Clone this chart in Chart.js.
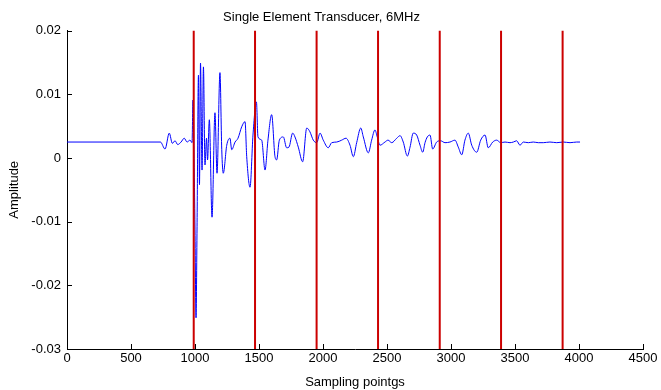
<!DOCTYPE html>
<html>
<head>
<meta charset="utf-8">
<script src="https://cdn.jsdelivr.net/npm/chart.js@4/dist/chart.umd.min.js"></script>
<style>
  html, body { margin: 0; padding: 0; background: #fff; }
  canvas { display: block; }
</style>
</head>
<body>
<canvas id="grafica" width="661" height="390"></canvas>
<script>
// muestras (eje x) y amplitud
const muestras = [0, 730, 766, 799, 823, 844, 865, 891, 916, 938, 961, 977, 984, 992, 1000, 1008, 1016,
  1027, 1035, 1043, 1055, 1066, 1078, 1090, 1098, 1112, 1133, 1156, 1172, 1195, 1209, 1221, 1248,
  1273, 1287, 1313, 1336, 1365, 1391, 1404, 1430, 1453, 1480, 1492, 1521, 1547, 1570, 1599, 1625,
  1638, 1659, 1690, 1716, 1734, 1763, 1781, 1807, 1841, 1873, 1898, 1924, 1951, 1977, 2002, 2041,
  2068, 2107, 2146, 2180, 2211, 2237, 2263, 2295, 2315, 2354, 2380, 2406, 2424, 2445, 2484, 2508,
  2537, 2576, 2602, 2627, 2659, 2680, 2705, 2732, 2758, 2779, 2797, 2815, 2836, 2857, 2888, 2919,
  2953, 2992, 3031, 3057, 3084, 3109, 3135, 3162, 3201, 3232, 3266, 3291, 3326, 3357, 3388, 3422,
  3461, 3487, 3513, 3539, 3565, 3604, 3643, 3682, 3721, 3773, 3826, 3877, 3930, 3982, 4008];
const amplitud = [0.0025, 0.0025, 0.0014, 0.0039, 0.0023, 0.0027, 0.0021, 0.0025, 0.0031, 0.0025, 0.0028, 0.0024, 0.0091, 0.0013, -0.0113, -0.0251, -0.0108,
  0.0130, -0.0042, 0.0149, -0.0019, 0.0143, -0.0011, 0.0031, -0.0003, 0.0060, -0.0093, 0.0071, -0.0024, 0.0134, 0.0013, -0.0024, 0.0020,
  0.0031, 0.0013, 0.0025, 0.0031, 0.0049, 0.0057, 0.0002, -0.0046, 0.0036, 0.0088, 0.0033, 0.0028, -0.0019, 0.0028, 0.0068, 0.0002,
  -0.0003, 0.0028, 0.0033, 0.0016, 0.0017, 0.0039, 0.0033, 0.0017, -0.0006, 0.0047, 0.0041, 0.0028, 0.0024, 0.0039, 0.0028, 0.0016,
  0.0024, 0.0025, 0.0028, 0.0031, 0.0020, 0.0002, 0.0024, 0.0047, 0.0033, 0.0008, 0.0028, 0.0044, 0.0033, 0.0020, 0.0025, 0.0028,
  0.0024, 0.0031, 0.0035, 0.0025, 0.0003, 0.0017, 0.0039, 0.0036, 0.0020, 0.0009, 0.0024, 0.0033, 0.0036, 0.0014, 0.0025, 0.0027,
  0.0024, 0.0025, 0.0028, 0.0017, 0.0005, 0.0028, 0.0039, 0.0020, 0.0009, 0.0028, 0.0036, 0.0016, 0.0025, 0.0028, 0.0024, 0.0025,
  0.0024, 0.0025, 0.0027, 0.0020, 0.0025, 0.0024, 0.0025, 0.0024, 0.0024, 0.0025, 0.0024, 0.0025, 0.0024, 0.0025, 0.0025];

// lineas rojas verticales
const lineasRojas = [990, 1469, 1950, 2430, 2912, 3391, 3872];

// ejes
const xMin = 0, xMax = 4500, xPaso = 500;
const yMin = -0.03, yMax = 0.02, yPaso = 0.01;

const fuente = { family: "'Liberation Sans', Arial, sans-serif", size: 13 };

const datasets = [{
  data: muestras.map((m, i) => ({ x: m, y: amplitud[i] })),
  borderColor: '#0000ff',
  borderWidth: 1,
  pointRadius: 0,
  cubicInterpolationMode: 'monotone',
  order: 2
}];

lineasRojas.forEach(v => {
  datasets.push({
    data: [{ x: v, y: yMin }, { x: v, y: yMax }],
    borderColor: '#cc0000',
    borderWidth: 2,
    pointRadius: 0,
    order: 1
  });
});

// marcas de los ejes hacia adentro (estilo MATLAB)
const marcasInternas = {
  id: 'marcasInternas',
  afterDraw(chart) {
    const { ctx, chartArea, scales: { x, y } } = chart;
    ctx.save();
    ctx.strokeStyle = '#000';
    ctx.lineWidth = 1;
    ctx.beginPath();
    x.ticks.forEach(t => {
      const px = Math.round(x.getPixelForValue(t.value)) + 0.5;
      ctx.moveTo(px, chartArea.bottom);
      ctx.lineTo(px, chartArea.bottom - 5);
    });
    y.ticks.forEach(t => {
      const py = Math.round(y.getPixelForValue(t.value)) + 0.5;
      ctx.moveTo(chartArea.left, py);
      ctx.lineTo(chartArea.left + 5, py);
    });
    ctx.stroke();
    ctx.restore();
  }
};

new Chart(document.getElementById('grafica'), {
  type: 'line',
  data: { datasets },
  options: {
    responsive: false,
    animation: false,
    layout: { padding: { left: 0, right: 18, top: 0, bottom: 0 } },
    plugins: {
      legend: { display: false },
      tooltip: { enabled: false },
      title: {
        display: true,
        text: 'Single Element Transducer, 6MHz',
        color: '#000',
        font: { ...fuente, weight: 'normal' },
        padding: { top: 10, bottom: 5 }
      }
    },
    scales: {
      x: {
        type: 'linear',
        min: xMin, max: xMax,
        ticks: {
          stepSize: xPaso, color: '#000', font: fuente, padding: 2, maxRotation: 0,
          callback: v => String(v)
        },
        grid: { drawOnChartArea: false, drawTicks: false },
        border: { color: '#000', width: 1 },
        title: { display: true, text: 'Sampling pointgs', color: '#000', font: fuente, padding: { top: 1, bottom: 0 } },
        afterFit(scale) { scale.height = 41; }
      },
      y: {
        type: 'linear',
        min: yMin, max: yMax,
        ticks: {
          stepSize: yPaso, color: '#000', font: fuente, padding: 6,
          callback: v => String(Number(v.toFixed(2)))
        },
        grid: { drawOnChartArea: false, drawTicks: false },
        border: { color: '#000', width: 1 },
        title: { display: true, text: 'Amplitude', color: '#000', font: fuente, padding: { top: 7, bottom: 0 } },
        afterFit(scale) { scale.width = 67; }
      }
    }
  },
  plugins: [marcasInternas]
});
</script>
</body>
</html>
